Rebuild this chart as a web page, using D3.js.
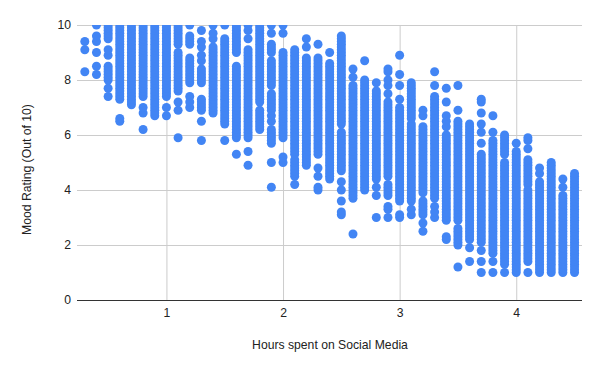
<!DOCTYPE html>
<html>
<head>
<meta charset="utf-8">
<script src="https://cdn.jsdelivr.net/npm/d3@7"></script>
<style>
  body { margin: 0; background: #fff; }
  text { font-family: "Liberation Sans", Arial, sans-serif; font-size: 12.2px; fill: #222; }
</style>
</head>
<body>
<svg id="chart" width="600" height="371"></svg>
<script>
// Hours on social media, one entry per column of dots
var hours = [0.3,0.4,0.5,0.6,0.7,0.8,0.9,1.0,1.1,1.2,1.3,1.4,1.5,1.6,1.7,1.8,1.9,2.0,2.1,2.2,2.3,2.4,2.5,2.6,2.7,2.8,2.9,3.0,3.1,3.2,3.3,3.4,3.5,3.6,3.7,3.8,3.9,4.0,4.1,4.2,4.3,4.4,4.5];

// Mood ratings read per column, stored in tenths of a point (94 = 9.4)
var moods = [
  [83,91,94],
  [82,85,90,94,96,100],
  [74,77,80,81,82,83,84,85,89,91,95,96,97,98,99,100],
  [65,66,73,74,75,76,77,78,79,80,81,82,83,84,85,86,87,88,89,90,91,92,93,94,95,96,97,98,99,100],
  [71,72,73,74,75,76,77,78,79,80,81,82,83,84,85,86,87,88,89,90,91,92,93,94,95,96,97,98,99,100],
  [62,68,70,74,75,76,77,78,79,80,81,82,83,84,85,86,87,88,89,90,91,92,93,94,95,96,97,98,99,100],
  [67,68,69,70,71,72,73,74,75,76,77,78,79,80,81,82,83,84,85,86,87,88,89,90,91,92,93,94,95,96,97,98,99,100],
  [67,70,74,75,76,77,78,79,80,81,82,83,84,85,86,87,88,89,90,91,92,93,94,95,96,97,98,99,100],
  [59,69,72,76,77,78,79,80,81,82,83,84,85,86,87,88,89,90,93,94,95,96,97,98,99,100],
  [70,72,74,79,80,81,82,83,84,85,86,87,88,93,94,95,96,100],
  [58,65,69,70,71,72,73,79,80,81,82,83,84,87,89,92,94,98],
  [68,69,70,71,72,73,74,75,76,77,78,79,80,81,82,83,84,85,86,87,88,89,90,91,92,95,97,100],
  [58,64,65,66,67,68,69,70,71,72,73,74,75,76,77,78,79,80,81,82,83,84,85,86,87,88,89,90,91,92,93,94,95,100],
  [53,59,60,61,62,63,64,65,66,67,68,69,70,71,72,73,74,75,76,77,78,79,80,81,82,83,84,85,90,91,92,93,94,95,96,97,98,99,100],
  [49,54,59,60,61,62,63,64,65,66,67,68,69,70,71,72,73,74,75,76,77,78,79,80,81,82,83,84,85,86,87,88,89,90,91,95,98,100],
  [62,63,64,65,66,67,68,69,72,73,74,75,76,77,78,79,80,81,82,83,84,85,86,87,88,89,90,91,92,93,94,95,96,97,98,99,100],
  [41,50,57,58,59,60,61,62,65,67,69,70,71,72,73,74,75,78,79,80,81,82,83,84,85,86,87,90,91,92,93,97,100],
  [50,52,59,60,61,62,63,64,65,66,67,68,69,70,71,72,73,74,75,76,77,78,79,80,81,82,83,84,85,86,87,88,89,90,97,100],
  [42,45,46,47,48,49,50,51,53,54,55,56,57,58,59,60,61,62,63,64,65,66,67,68,69,70,71,72,73,74,75,76,77,78,79,80,81,82,83,84,85,86,87,88,89,90,91],
  [49,50,51,52,53,54,55,56,57,58,59,60,61,62,63,64,65,66,67,68,69,70,71,72,73,74,75,76,77,78,79,80,81,82,83,84,85,86,87,88,92,95],
  [40,41,45,48,53,54,55,56,57,58,59,60,61,62,63,64,65,66,67,68,69,70,71,72,73,74,75,76,77,78,79,80,81,82,83,84,85,86,87,88,93],
  [44,45,46,47,48,49,50,51,52,53,54,55,56,57,58,59,60,61,62,63,64,65,66,67,68,69,70,71,72,73,74,75,76,77,78,79,80,81,82,83,84,85,86,90],
  [31,32,36,40,43,47,48,49,50,51,52,53,54,55,56,57,58,59,60,61,64,65,66,67,68,69,70,71,72,73,74,75,76,77,78,79,80,81,82,83,84,85,86,87,88,89,90,91,92,93,94,95,96],
  [24,37,38,39,40,41,42,43,44,45,46,47,48,49,50,51,52,53,54,55,56,57,58,59,60,61,62,63,64,65,66,67,68,69,70,71,72,73,74,75,76,77,78,81,84],
  [40,41,42,43,44,45,46,47,48,49,50,51,52,53,54,55,56,57,58,59,60,61,62,63,64,65,66,67,68,69,70,71,72,73,74,75,76,77,78,79,80,87],
  [30,38,41,44,45,46,47,48,49,50,51,52,53,54,55,56,57,58,59,60,61,62,63,64,65,66,67,68,69,70,71,72,73,74,75,76,79],
  [30,33,34,38,39,40,41,42,45,46,47,48,49,50,51,52,53,54,55,56,57,58,59,60,61,62,63,64,65,66,67,68,69,70,71,72,75,78,80,83,84],
  [30,31,36,37,38,39,40,41,42,43,44,45,46,47,48,49,50,51,52,53,54,55,56,57,58,59,60,61,62,63,64,65,66,67,68,69,70,73,78,82,89],
  [31,33,36,37,38,39,40,41,42,43,44,45,46,47,48,49,50,51,52,53,54,55,56,57,58,59,60,61,62,63,64,66,67,68,69,70,71,72,73,74,75,76,77,78,79],
  [25,28,31,32,33,34,35,36,39,40,41,42,43,44,45,46,47,48,49,50,51,52,53,54,55,56,57,58,59,60,61,62,63,67,69],
  [30,32,34,37,38,39,40,41,42,43,44,45,46,47,48,49,50,51,52,53,54,55,56,57,58,59,60,61,62,63,64,65,66,67,68,69,70,71,72,73,74,78,83],
  [22,23,29,30,31,32,33,34,35,36,37,38,39,40,41,42,43,44,45,46,47,48,49,50,51,52,53,54,55,56,57,58,59,60,63,65,67,72,77],
  [12,20,21,22,23,24,25,26,29,30,31,32,33,34,35,36,37,38,39,40,41,42,43,44,45,46,47,48,49,50,51,52,53,54,55,56,57,58,59,60,61,62,63,64,65,69,78],
  [14,19,22,23,24,25,26,27,28,29,30,31,32,33,34,35,36,37,38,39,40,41,42,43,44,45,46,47,48,49,50,51,52,53,54,55,56,57,58,59,60,61,62,63,64],
  [10,14,18,21,22,23,24,25,26,27,28,29,30,31,32,33,34,35,36,37,38,39,40,41,42,43,44,45,46,47,48,49,50,51,52,53,57,61,64,68,72,73],
  [10,14,17,18,19,20,21,22,23,24,25,26,27,28,29,30,31,32,33,34,35,36,37,38,39,40,41,42,43,44,45,46,47,48,49,50,51,52,53,54,55,56,57,58,61,67],
  [10,13,14,15,16,17,18,19,20,21,22,23,24,25,26,27,28,29,30,31,32,33,34,35,36,37,38,39,40,41,42,43,44,45,46,47,48,49,50,53,54,55,56,57,58,59,60],
  [10,11,12,13,14,15,16,17,18,19,20,21,22,23,24,25,26,27,28,29,30,31,32,33,34,35,36,37,38,39,40,41,42,43,44,45,46,47,48,49,50,51,52,53,54,57],
  [10,14,15,16,17,18,19,20,21,22,23,24,25,26,27,28,29,30,31,32,33,34,35,36,37,38,39,40,42,43,44,45,46,47,48,49,50,51,55,58,59],
  [10,11,12,13,14,15,16,17,18,19,20,21,22,23,24,25,26,27,28,29,30,31,32,33,34,35,36,37,38,39,40,41,42,43,46,48],
  [10,11,12,13,14,15,16,17,18,19,20,21,22,23,24,25,26,27,28,29,30,31,32,33,34,35,36,37,38,39,40,41,42,43,44,45,46,47,48,49,50],
  [10,11,12,13,14,15,16,17,18,19,20,21,22,23,24,25,26,27,28,29,30,31,32,33,34,35,36,37,38,41,44],
  [10,11,12,13,14,15,16,17,18,19,20,21,22,23,24,25,26,27,28,29,30,31,32,33,34,35,36,37,38,39,40,41,42,43,44,45,46]
];

var xTicks = [1,2,3,4];
var yTicks = [0,2,4,6,8,10];

var svg = d3.select("#chart"),
    plotLeft = 77, plotRight = 582, plotTop = 25, plotBottom = 300;

var x = d3.scaleLinear().domain([0.233, 4.564]).range([plotLeft, plotRight]);
var y = d3.scaleLinear().domain([0, 10]).range([plotBottom, plotTop]);

// Flatten columns into points
var points = [];
hours.forEach(function(h, i) {
  moods[i].forEach(function(m) { points.push({hours: h, mood: m / 10}); });
});

// Axes double as gridlines
var xAxis = svg.append("g")
    .attr("transform", "translate(0," + plotBottom + ")")
    .call(d3.axisBottom(x).tickValues(xTicks).tickFormat(d3.format("d")).tickSize(-(plotBottom - plotTop)).tickPadding(8.5));

var yAxis = svg.append("g")
    .attr("transform", "translate(" + plotLeft + ",0)")
    .call(d3.axisLeft(y).tickValues(yTicks).tickFormat(d3.format("d")).tickSize(-(plotRight - plotLeft)).tickPadding(6));

xAxis.select(".domain").remove();
yAxis.select(".domain").remove();
xAxis.selectAll("line").attr("stroke", "#ccc");
yAxis.selectAll("line").attr("stroke", function(d) { return d === 0 ? "#333" : "#ccc"; });
svg.selectAll(".tick text").style("font-size", "12.2px");

svg.append("clipPath").attr("id", "plot")
  .append("rect")
    .attr("x", plotLeft).attr("y", plotTop)
    .attr("width", plotRight - plotLeft).attr("height", plotBottom - plotTop);

svg.append("g")
    .attr("clip-path", "url(#plot)")
  .selectAll("circle")
  .data(points)
  .enter().append("circle")
    .attr("cx", function(d) { return x(d.hours); })
    .attr("cy", function(d) { return y(d.mood); })
    .attr("r", 4.5)
    .attr("fill", "#4285f4");

// Axis titles
svg.append("text")
    .attr("x", 330).attr("y", 349)
    .attr("text-anchor", "middle")
    .text("Hours spent on Social Media");

svg.append("text")
    .attr("transform", "translate(31,169.5) rotate(-90)")
    .attr("text-anchor", "middle")
    .text("Mood Rating (Out of 10)");
</script>
</body>
</html>
